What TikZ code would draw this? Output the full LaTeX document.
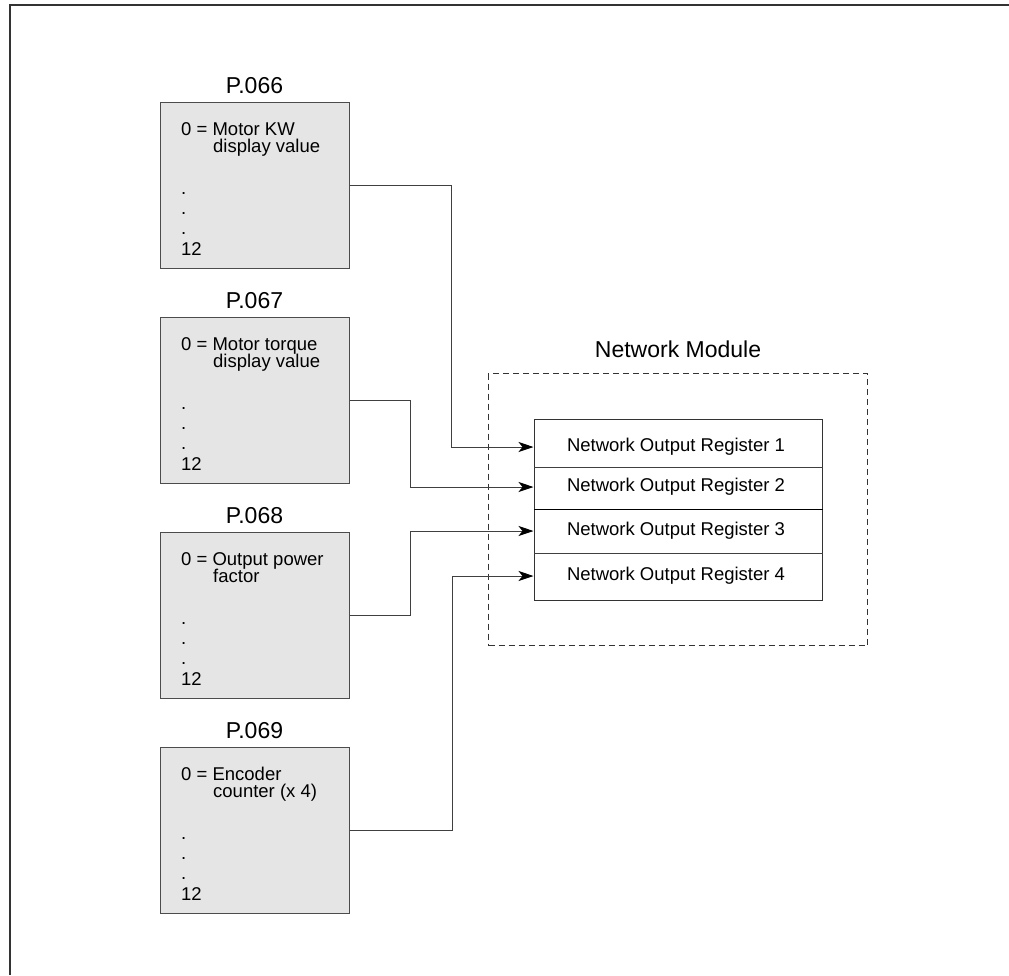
\documentclass[tikz,border=0pt]{standalone}
\usepackage{fontspec}
\setmainfont{Liberation Sans}
\usetikzlibrary{arrows.meta}
\newcommand\parambox[5]{%
  \node[pbox, anchor=north west] (#1) at (160,#2) {};
  \node[ptitle, anchor=base] (#1t) at (254.5,#2-9) {#3};
  \node[ptext, anchor=base west] (#1a) at (181,#2+33) {0 = #4};
  \node[ptext, anchor=base west] (#1b) at (213,#2+50) {#5};
  \node[ptext, anchor=base west] (#1c) at (181,#2+92) {.};
  \node[ptext, anchor=base west] (#1d) at (181,#2+112) {.};
  \node[ptext, anchor=base west] (#1e) at (181,#2+132) {.};
  \node[ptext, anchor=base west] (#1f) at (181,#2+153) {12};
}
\begin{document}
\begin{tikzpicture}[x=1pt,y=-1pt,
  pbox/.style={draw=black!70, line width=1pt, fill=black!10, minimum width=189pt, minimum height=166pt, inner sep=0pt},
  ptitle/.style={inner sep=0pt, font=\fontsize{23}{27}\selectfont},
  ptext/.style={inner sep=0pt, font=\fontsize{18.5}{22}\selectfont},
  regtext/.style={inner sep=0pt, minimum width=288pt, font=\fontsize{18.5}{22}\selectfont},
  conn/.style={draw=black!75, line width=1pt},
  arr/.style={conn, -{Stealth[length=15pt,width=10pt,inset=4pt,color=black]}, shorten >=0.5pt},
  frame/.style={draw=black!80, line width=2pt},
  modbox/.style={draw=black!80, line width=1pt, dash pattern=on 6pt off 4pt}]
\useasboundingbox (0,0) rectangle (1009,975);
% page frame
\coordinate (fTL) at (10,4.5);
\coordinate (fTR) at (1009,4.5);
\coordinate (fBL) at (10,975);
\draw[frame] (fBL) -- (fTL) -- (fTR);
% parameter boxes
\parambox{p066}{102}{P.066}{Motor KW}{display value}
\parambox{p067}{317}{P.067}{Motor torque}{display value}
\parambox{p068}{532}{P.068}{Output power}{factor}
\parambox{p069}{747}{P.069}{Encoder}{counter (x 4)}
% network module
\node[modbox, anchor=north west, minimum width=379pt, minimum height=272pt, inner sep=0pt] (mod) at (488,373) {};
\node[ptitle, anchor=base] (modt) at (678,357) {Network Module};
\node[draw=black!80, line width=1pt, anchor=north west, minimum width=288pt, minimum height=181pt, inner sep=0pt] (reg) at (534,419) {};
\draw[conn] (reg.west |- 0,467) coordinate (d1a) -- (reg.east |- 0,467) coordinate (d1b);
\draw[conn, draw=black] (reg.west |- 0,509) coordinate (d2a) -- (reg.east |- 0,509) coordinate (d2b);
\draw[conn] (reg.west |- 0,553) coordinate (d3a) -- (reg.east |- 0,553) coordinate (d3b);
\node[regtext] (r1) at (676,447) {Network Output Register 1};
\node[regtext] (r2) at (676,487) {Network Output Register 2};
\node[regtext] (r3) at (676,531) {Network Output Register 3};
\node[regtext] (r4) at (676,576) {Network Output Register 4};
% connectors
\draw[arr] (p066.east) -- ++(101,0) |- (r1.west -| reg.west);
\draw[arr] (p067.east) -- ++(60,0) |- (r2.west -| reg.west);
\draw[arr] (p068.east) -- ++(60,0) |- (r3.west -| reg.west);
\draw[arr] (p069.east) -- ++(102,0) |- (r4.west -| reg.west);
\end{tikzpicture}
\end{document}
